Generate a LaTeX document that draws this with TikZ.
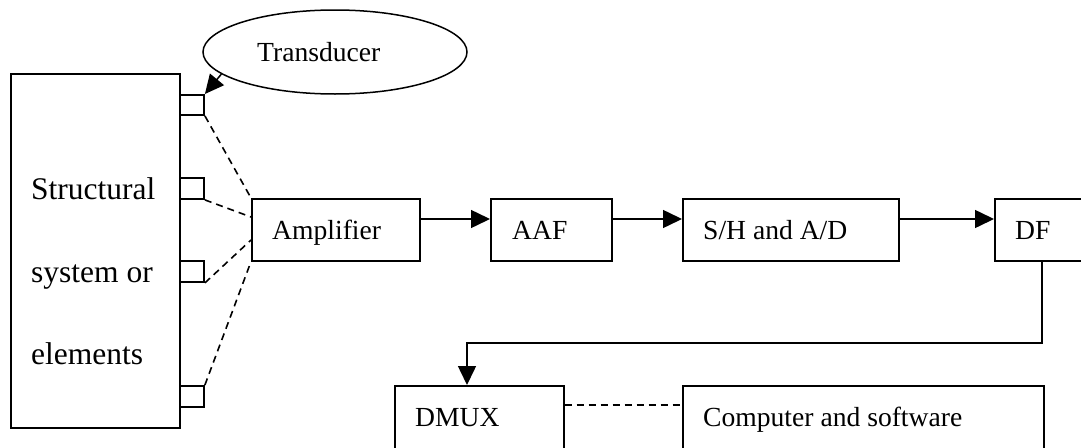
\documentclass[tikz,border=0pt]{standalone}
\usepackage{fontspec}
\setmainfont{Liberation Serif}
\usetikzlibrary{arrows.meta,shapes.geometric,calc}
\begin{document}
\begin{tikzpicture}[x=1pt,y=-1pt,
  boxsty/.style={draw,line width=1.6pt,inner sep=0pt,anchor=north west},
  sqsty/.style={draw,line width=1.9pt,inner sep=0pt,anchor=north west,minimum width=24pt,minimum height=20pt},
  lbl/.style={anchor=base west,inner sep=0pt,font=\fontsize{27.6}{30}\selectfont},
  biglbl/.style={anchor=base west,inner sep=0pt,font=\fontsize{31.5}{34}\selectfont},
  arr/.style={line width=1.5pt,-{Triangle[length=19pt,width=18pt]}},
  dsh/.style={line width=1.6pt,dash pattern=on 7pt off 5pt},
  ]
\useasboundingbox (0,0) rectangle (1081,447);
\clip (0,0) rectangle (1081,447);
% structural system
\node[boxsty,minimum width=169pt,minimum height=354pt] (sys) at (10,73) {};
\node[biglbl] (t1) at (31,199) {Structural};
\node[biglbl] (t2) at (31,282) {system or};
\node[biglbl] (t3) at (31,364) {elements};
% sensor squares
\node[sqsty] (sq1) at (179,94) {};
\node[sqsty,minimum height=21pt] (sq2) at (179,177) {};
\node[sqsty,minimum height=21pt] (sq3) at (179,260) {};
\node[sqsty,minimum height=21pt] (sq4) at (179,385) {};
% transducer
\node[draw,ellipse,line width=1.5pt,inner sep=0pt,minimum width=264pt,minimum height=84pt] (tr) at (335,52) {};
\node[lbl] (trl) at (257,61) {Transducer};
% chain
\node[boxsty,minimum width=168pt,minimum height=62pt] (amp) at (251,198) {};
\node[lbl] (ampl) at (272,239) {Amplifier};
\node[boxsty,minimum width=121pt,minimum height=62pt] (aaf) at (490,198) {};
\node[lbl] (aafl) at (512,239) {AAF};
\node[boxsty,minimum width=216pt,minimum height=62pt] (sh) at (682,198) {};
\node[lbl] (shl) at (703,239) {S/H and A/D};
\node[boxsty,minimum width=110pt,minimum height=62pt] (df) at (994,198) {};
\node[lbl] (dfl) at (1015,239) {DF};
\node[boxsty,minimum width=169pt,minimum height=80pt] (dmux) at (394,385) {};
\node[lbl] (dmuxl) at (415,426) {DMUX};
\node[boxsty,minimum width=361pt,minimum height=80pt] (comp) at (682,385) {};
\node[lbl] (compl) at (703,426) {Computer and software};
% connectors
\draw[arr] (tr.191) -- (sq1.north east);
\draw[dsh] (sq1.south east) -- (amp.north west);
\draw[dsh] (sq2.south east) -- ([yshift=-19pt]amp.north west);
\draw[dsh] (sq3.south east) -- ([yshift=-42pt]amp.north west);
\draw[dsh] (sq4.north east) -- (amp.south west);
\draw[arr] ([yshift=-21pt]amp.north east) -- ([yshift=-21pt]aaf.north west);
\draw[arr] ([yshift=-21pt]aaf.north east) -- ([yshift=-21pt]sh.north west);
\draw[arr] ([yshift=-21pt]sh.north east) -- ([yshift=-21pt]df.north west);
\draw[arr] ([xshift=48pt,yshift=-62pt]df.north west) -- ++(0,83) -| ([xshift=73pt]dmux.north west);
\draw[dsh,line width=2.2pt] ([yshift=-20pt]dmux.north east) -- ([yshift=-20pt]comp.north west);
\end{tikzpicture}
\end{document}
